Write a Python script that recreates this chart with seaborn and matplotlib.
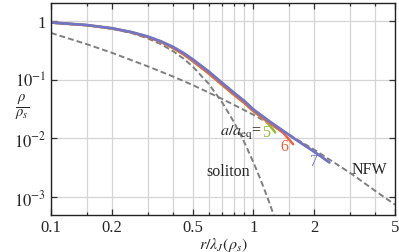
import numpy as np
import pandas as pd
import seaborn as sns
import matplotlib
matplotlib.use("Agg")
import matplotlib.pyplot as plt
from matplotlib.ticker import FixedLocator, NullFormatter, FixedFormatter

# dashed reference profiles
x_nfw = [0.1, 0.15, 0.2, 0.3, 0.4, 0.5, 0.7, 1.0, 1.5, 2.0, 3.0, 4.0, 5.0]
rho_nfw = [0.62, 0.40, 0.285, 0.168, 0.113, 0.081, 0.047, 0.0252, 0.0115, 0.0064, 0.0026, 0.00128, 0.00075]

x_sol = [0.1, 0.15, 0.2, 0.25, 0.3, 0.35, 0.4, 0.45, 0.5, 0.6, 0.7, 0.8, 0.9, 1.0, 1.1, 1.2, 1.3]
rho_sol = [0.923, 0.837, 0.731, 0.616, 0.502, 0.397, 0.305, 0.229, 0.168, 0.0854, 0.0411,
           0.0191, 0.00868, 0.00391, 0.00176, 0.000796, 0.000365]

# simulated profiles, a/a_eq = 5, 6, 7
x7 = [0.1, 0.15, 0.2, 0.25, 0.3, 0.35, 0.4, 0.45, 0.5, 0.6, 0.7, 0.8, 0.9, 1.0, 1.2, 1.4, 1.6, 1.8, 2.0, 2.2, 2.37]
rho7 = [0.935, 0.845, 0.745, 0.64, 0.54, 0.445, 0.36, 0.285, 0.222, 0.138, 0.088, 0.06, 0.0435,
        0.031, 0.0195, 0.0135, 0.0098, 0.0075, 0.0059, 0.0047, 0.0039]

x6 = [0.1, 0.15, 0.2, 0.25, 0.3, 0.35, 0.4, 0.45, 0.5, 0.6, 0.7, 0.8, 0.9, 1.0, 1.2, 1.4, 1.57]
rho6 = [0.93, 0.84, 0.74, 0.635, 0.53, 0.435, 0.345, 0.27, 0.208, 0.128, 0.082, 0.056, 0.0405,
        0.0292, 0.0183, 0.0125, 0.0080]

x5 = [0.1, 0.15, 0.2, 0.25, 0.3, 0.35, 0.4, 0.45, 0.5, 0.6, 0.7, 0.8, 0.9, 1.0, 1.15, 1.28]
rho5 = [0.93, 0.84, 0.74, 0.635, 0.53, 0.435, 0.345, 0.27, 0.208, 0.127, 0.081, 0.055, 0.040,
        0.0288, 0.020, 0.0127]

labels = ["5", "6", "7"]
colors = ["#8fbf2f", "#f0643a", "#7474c4"]

x_major = [0.1, 0.2, 0.5, 1, 2, 5]
x_minor = [0.15, 0.3, 0.4, 0.6, 0.7, 0.8, 0.9, 1.5, 3, 4]
y_major = [1e-3, 1e-2, 1e-1, 1]
y_labels = ["$10^{-3}$", "$10^{-2}$", "$10^{-1}$", "1"]

sns.set_style("ticks")
plt.rcParams["font.family"] = ["Liberation Serif", "DejaVu Serif"]
plt.rcParams["mathtext.fontset"] = "stix"

fig = plt.figure(figsize=(3.99, 2.53), dpi=100)
ax = fig.add_axes([51 / 399, 1 - 216 / 253, 344 / 399, 212 / 253])
ax.set_xscale("log")
ax.set_yscale("log")

for xv in x_major + x_minor:
    ax.axvline(xv, color="#d4d4d4", lw=0.9, zorder=0)
for yv in y_major:
    ax.axhline(yv, color="#d4d4d4", lw=0.9, zorder=0)

dash = dict(color="#7f7f7f", lw=1.4, dashes=(3, 1.6))
sns.lineplot(x=x_nfw, y=rho_nfw, ax=ax, estimator=None, sort=False, **dash)
sns.lineplot(x=x_sol, y=rho_sol, ax=ax, estimator=None, sort=False, **dash)

sns.lineplot(x=x5, y=rho5, ax=ax, estimator=None, sort=False, color=colors[0], lw=1.8)
sns.lineplot(x=x6, y=rho6, ax=ax, estimator=None, sort=False, color=colors[1], lw=1.8)
sns.lineplot(x=x7, y=rho7, ax=ax, estimator=None, sort=False, color=colors[2], lw=2.0)

ax.set_xlim(0.1, 5)
ax.set_ylim(5e-4, 2)

ax.xaxis.set_major_locator(FixedLocator(x_major))
ax.xaxis.set_major_formatter(FixedFormatter(["0.1", "0.2", "0.5", "1", "2", "5"]))
ax.xaxis.set_minor_locator(FixedLocator(x_minor))
ax.xaxis.set_minor_formatter(NullFormatter())
ax.yaxis.set_major_locator(FixedLocator(y_major))
ax.yaxis.set_major_formatter(FixedFormatter(y_labels))
ax.yaxis.set_minor_locator(FixedLocator([]))

ax.tick_params(which="both", direction="in", top=True, right=True, labelsize=12,
               width=0.9, color="#333333")
ax.tick_params(which="major", length=4)
ax.tick_params(which="minor", length=2.5)
ax.tick_params(axis="x", pad=3)
for s in ax.spines.values():
    s.set_linewidth(1.0)
    s.set_color("#222222")

ax.set_xlabel(r"$r/\lambda_J(\rho_s)$", fontsize=11.5, labelpad=0)
ax.set_ylabel("")
fig.text(22 / 399, 1 - 108 / 253, r"$\frac{\rho}{\rho_s}$", fontsize=15, ha="center", va="center")

ax.text(0.75, 0.0028, "soliton", fontsize=11.5, ha="center", va="center")
ax.text(3.72, 0.0030, "NFW", fontsize=11.5, ha="center", va="center")
ax.text(1.10, 0.0128, r"$a/a_{\rm eq}$=", fontsize=11.5, ha="right", va="center")
ax.text(1.10, 0.0128, labels[0], fontsize=11.5, ha="left", va="center", color=colors[0])
ax.text(1.415, 0.0075, labels[1], fontsize=11.5, ha="center", va="center", color=colors[1])
ax.text(1.99, 0.0041, labels[2], fontsize=11.5, ha="center", va="center", color=colors[2])

fig.savefig("out.png", dpi=100)
